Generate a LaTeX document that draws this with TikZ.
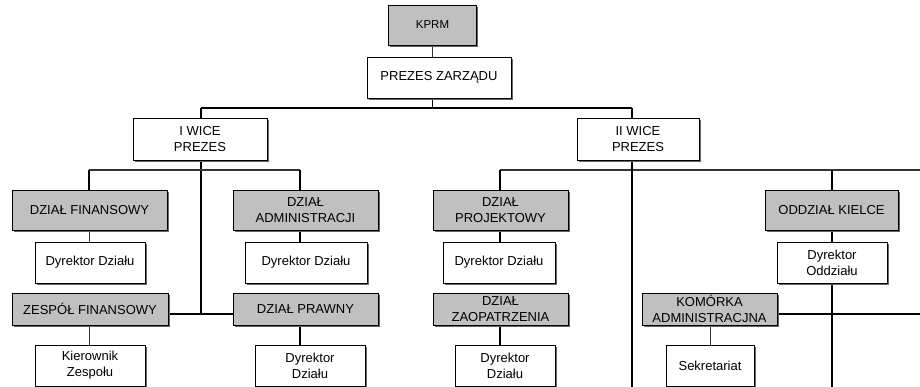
\documentclass[tikz,border=0pt]{standalone}
\usepackage{fontspec}
\setmainfont{Liberation Sans}
\usetikzlibrary{shadows,backgrounds}
\definecolor{unitgray}{RGB}{192,192,192}
\begin{document}
\begin{tikzpicture}[x=1pt,y=-1pt,
  box/.style={draw=black, line width=0.8pt, fill=white, inner sep=0pt, outer sep=0pt,
    align=center, font=\fontsize{13}{16}\selectfont,
    drop shadow={shadow xshift=1.6pt, shadow yshift=-1.6pt, fill=black!60, opacity=1}},
  unit/.style={box, fill=unitgray},
  link/.style={line width=1.6pt, black},
  thin link/.style={line width=0.9pt, black!80}]
\useasboundingbox (0,0) rectangle (920,387);

% guide coordinates for the bus lines
\coordinate (xF)  at (89,0);
\coordinate (xL1) at (201,0);
\coordinate (xL2) at (300,0);
\coordinate (xR2) at (500,0);
\coordinate (xR1) at (632,0);
\coordinate (xK)  at (710,0);
\coordinate (xR3) at (832,0);
\coordinate (xE)  at (920,0);
\coordinate (y1)  at (0,108);
\coordinate (y2)  at (0,170);
\coordinate (y3)  at (0,314);
\coordinate (yb)  at (0,387);

% management
\node[unit, minimum width=88pt, minimum height=40pt, font=\fontsize{11.5}{14}\selectfont] (kprm) at (432.5,25) {KPRM};
\node[box, minimum width=144pt, minimum height=41pt] (prezes) at (439,77.5) {PREZES ZARZĄDU};
\node[box, minimum width=134pt, minimum height=42pt] (wice1) at (200,139) {I WICE\\PREZES};
\node[box, minimum width=122pt, minimum height=42pt] (wice2) at (638,139) {II WICE\\PREZES};

% first vice-president's branch
\node[unit, minimum width=155pt, minimum height=40pt] (finansowy) at (89.5,210) {DZIAŁ FINANSOWY};
\node[box, minimum width=110pt, minimum height=41pt] (dyr1) at (90,262.5) {Dyrektor Działu};
\node[unit, minimum width=145pt, minimum height=40pt] (admin) at (305.5,210) {DZIAŁ\\ADMINISTRACJI};
\node[box, minimum width=122pt, minimum height=41pt] (dyr2) at (306,262.5) {Dyrektor Działu};
\node[unit, minimum width=156pt, minimum height=32pt] (zespol) at (90,309) {ZESPÓŁ FINANSOWY};
\node[unit, minimum width=145pt, minimum height=32pt] (prawny) at (305.5,309) {DZIAŁ PRAWNY};
\node[box, minimum width=110pt, minimum height=41pt] (kier) at (90,365.5) {Kierownik\\Zespołu};
\node[box, minimum width=110pt, minimum height=41pt] (dyr3) at (310,365.5) {Dyrektor\\Działu};

% second vice-president's branch
\node[unit, minimum width=135pt, minimum height=40pt] (projekt) at (500.5,210) {DZIAŁ\\PROJEKTOWY};
\node[box, minimum width=112pt, minimum height=41pt] (dyr4) at (499,262.5) {Dyrektor Działu};
\node[unit, minimum width=135pt, minimum height=32pt] (zaop) at (500.5,309) {DZIAŁ\\ZAOPATRZENIA};
\node[box, minimum width=100pt, minimum height=41pt] (dyr5) at (505,365.5) {Dyrektor\\Działu};
\node[unit, minimum width=133pt, minimum height=40pt] (kielce) at (831.5,210) {ODDZIAŁ KIELCE};
\node[box, minimum width=110pt, minimum height=41pt] (dyr6) at (832,262.5) {Dyrektor\\Oddziału};
\node[unit, minimum width=135pt, minimum height=32pt] (komorka) at (709.5,309) {KOMÓRKA\\ADMINISTRACJNA};
\node[box, minimum width=88pt, minimum height=41pt] (sekr) at (710,365.5) {Sekretariat};

\begin{scope}[on background layer]
  \fill[white] (0,0) rectangle (920,387);
  % top of the hierarchy
  \draw[thin link] (kprm.south) -- (kprm.south |- prezes.north);
  \draw[link] (kprm.south |- prezes.south) -- (kprm.south |- y1);
  \draw[link] (xL1 |- y1) -- (xR1 |- y1);
  \draw[link] (xL1 |- y1) -- (xL1 |- wice1.north);
  \draw[link] (xR1 |- y1) -- (xR1 |- wice2.north);
  % left branch
  \draw[link] (xL1 |- wice1.south) -- (xL1 |- y3);
  \draw[link, draw=black!80] (xF |- y2) -- (xL2 |- y2);
  \draw[link] (xF |- y2) -- (xF |- finansowy.north);
  \draw[link] (xL2 |- y2) -- (xL2 |- admin.north);
  \draw[thin link] (xF |- finansowy.south) -- (xF |- dyr1.north);
  \draw[link] (xL2 |- admin.south) -- (xL2 |- dyr2.north);
  \draw[link] (zespol.east |- y3) -- (prawny.west |- y3);
  \draw[thin link] (xF |- zespol.south) -- (xF |- kier.north);
  \draw[link] (xL2 |- prawny.south) -- (xL2 |- dyr3.north);
  % right branch
  \draw[link, draw=black!80] (xR2 |- y2) -- (xE |- y2);
  \draw[link] (xR2 |- y2) -- (xR2 |- projekt.north);
  \draw[link] (xR3 |- y2) -- (xR3 |- kielce.north);
  \draw[link] (xR1 |- wice2.south) -- (xR1 |- yb);
  \draw[link] (xR2 |- projekt.south) -- (xR2 |- dyr4.north);
  \draw[link] (xR2 |- zaop.south) -- (xR2 |- dyr5.north);
  \draw[link] (xR3 |- kielce.south) -- (xR3 |- yb);
  \draw[link] (komorka.east |- y3) -- (xE |- y3);
  \draw[thin link] (xK |- komorka.south) -- (xK |- sekr.north);
\end{scope}
\end{tikzpicture}
\end{document}
